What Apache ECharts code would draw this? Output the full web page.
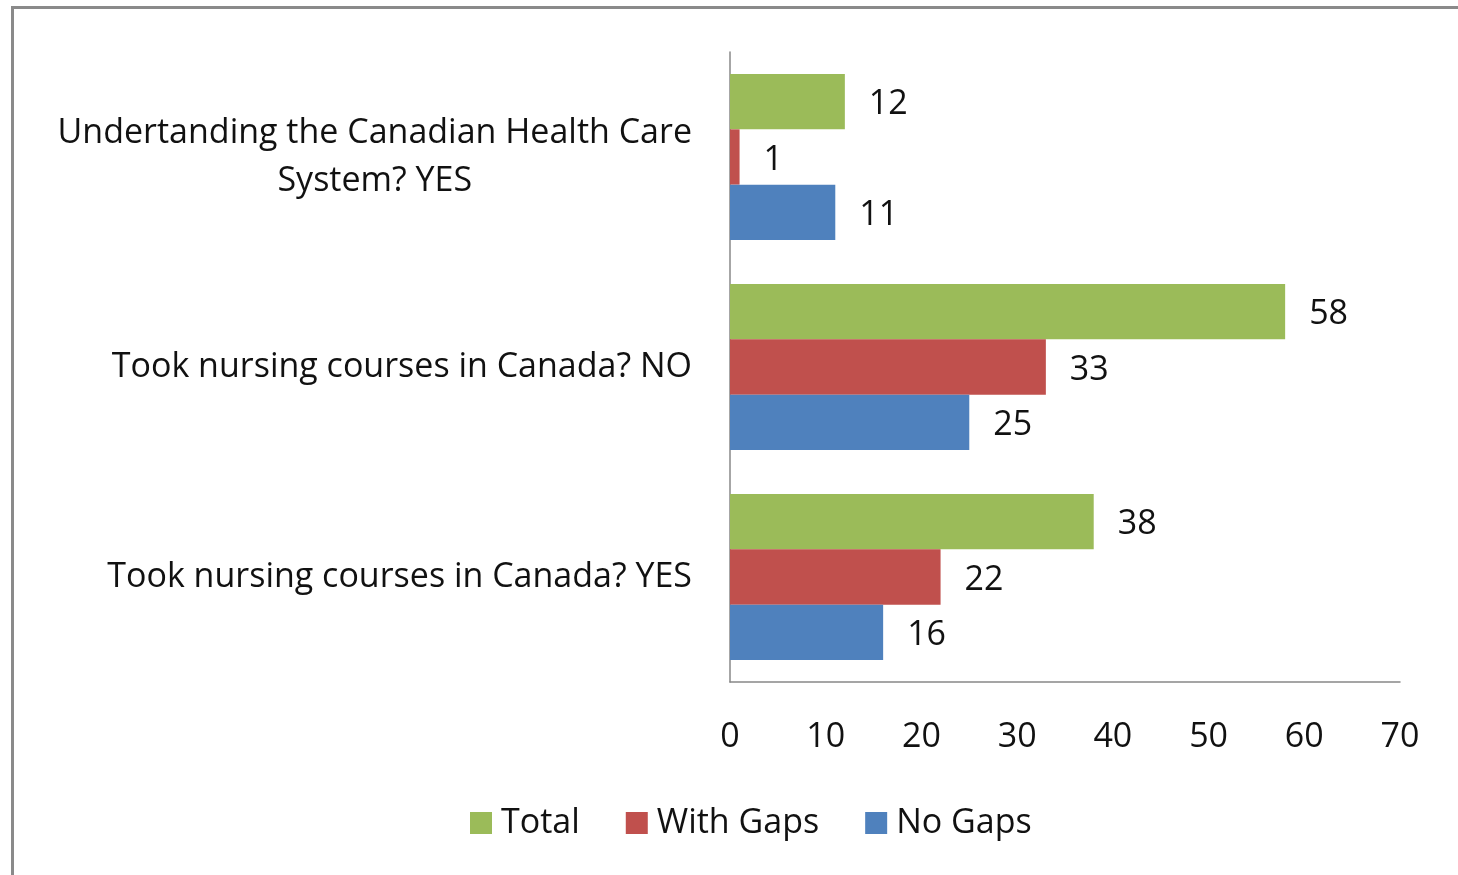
<!DOCTYPE html>
<html>
<head>
<meta charset="utf-8">
<style>
  html, body { margin: 0; padding: 0; background: #fff; }
  #chart { width: 1458px; height: 875px; }
</style>
<script src="https://cdn.jsdelivr.net/npm/echarts@6/dist/echarts.min.js"></script>
</head>
<body>
<div id="chart"></div>
<script>
// categories, bottom to top as drawn
const categories = [
  'Took nursing courses in Canada? YES',
  'Took nursing courses in Canada? NO',
  'Undertanding the Canadian Health Care\nSystem? YES'
]
const total = [38, 58, 12]
const withGaps = [22, 33, 1]
const noGaps = [16, 25, 11]
const legendNames = ['Total', 'With Gaps', 'No Gaps']

const font = 'Open Sans'
const fs = 34
const chart = echarts.init(document.getElementById('chart'))

function barSeries (name, data, color) {
  return {
    name: name,
    type: 'bar',
    data: data,
    barGap: '0%',
    barCategoryGap: '21%',
    itemStyle: { color: color },
    label: {
      show: true,
      position: 'right',
      distance: 24,
      offset: [0, 3],
      color: '#111',
      fontFamily: font,
      fontSize: fs
    }
  }
}

chart.setOption({
  animation: false,
  graphic: [{
    type: 'rect',
    shape: { x: 12.5, y: 7.5, width: 1460, height: 880 },
    style: { fill: null, stroke: '#8a8a8a', lineWidth: 3 }
  }],
  grid: { left: 730, right: 58, top: 52, bottom: 193 },
  xAxis: {
    type: 'value',
    min: 0,
    max: 70,
    interval: 10,
    splitLine: { show: false },
    axisLine: { show: true, lineStyle: { color: '#888', width: 1.5 } },
    axisTick: { show: false },
    axisLabel: { color: '#111', fontFamily: font, fontSize: fs, margin: 38 }
  },
  yAxis: {
    type: 'category',
    data: categories,
    axisLine: { show: true, lineStyle: { color: '#888', width: 1.5 } },
    axisTick: { show: false },
    axisLabel: {
      color: '#111',
      fontFamily: font,
      fontSize: fs,
      margin: 38,
      align: 'right',
      // centre each line inside the right-aligned block
      formatter: v => v.split('\n').map(s => '{c|' + s + '}').join('\n'),
      rich: {
        c: { align: 'center', fontFamily: font, fontSize: fs, color: '#111', lineHeight: 48 }
      }
    }
  },
  legend: {
    data: legendNames,
    bottom: 30,
    left: 465,
    itemWidth: 22,
    itemHeight: 22,
    itemGap: 46,
    icon: 'rect',
    textStyle: { color: '#111', fontFamily: font, fontSize: fs, padding: [0, 0, 0, 4] }
  },
  series: [
    barSeries('Total', total, '#9BBB59'),
    barSeries('With Gaps', withGaps, '#C0504D'),
    barSeries('No Gaps', noGaps, '#4F81BD')
  ]
})
</script>
</body>
</html>
